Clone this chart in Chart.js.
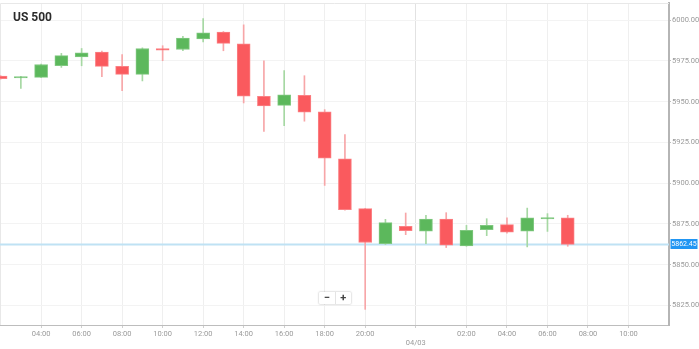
<!DOCTYPE html>
<html><head><meta charset="utf-8">
<script src="https://cdn.jsdelivr.net/npm/chart.js@4.4.1/dist/chart.umd.min.js"></script>
<style>
html,body{margin:0;padding:0;background:#fff;}
#wrap{position:relative;width:699px;height:349px;overflow:hidden;}
#c{display:block;width:699px;height:349px;}
#title{position:absolute;left:13px;top:10px;font:bold 12px Roboto, sans-serif;color:#2b2b2b;letter-spacing:0;}
#zoom{position:absolute;left:319px;top:292px;width:32px;height:12px;display:flex;background:#fff;box-shadow:0 0 2px rgba(0,0,0,0.35);border-radius:1px;font:bold 11px Roboto, sans-serif;color:#444;}
#zoom span{flex:1;text-align:center;line-height:12px;}
#zoom span:first-child{border-right:1px solid #e4e4e4;}
</style></head>
<body><div id="wrap"><canvas id="c" width="699" height="349"></canvas><div id="title">US 500</div><div id="zoom"><span>−</span><span>+</span></div></div>
<script>
// ---- data ----
const times = ['02:00','03:00','04:00','05:00','06:00','07:00','08:00','09:00','10:00','11:00','12:00','13:00','14:00','15:00','16:00','17:00','18:00','19:00','20:00','21:00','23:00','00:00','01:00','02:00','03:00','04:00','05:00','06:00','07:00'];
const opens  = [5965.6,5964.5,5964.9,5972.0,5977.4,5980.4,5971.6,5966.7,5982.6,5982.0,5988.4,5992.7,5985.5,5953.3,5947.7,5953.9,5943.7,5914.9,5884.4,5862.9,5873.5,5870.6,5878.0,5861.5,5871.5,5874.6,5870.6,5878.0,5878.8];
const highs  = [5966.0,5965.5,5973.0,5979.6,5982.6,5981.0,5978.8,5983.0,5984.3,5990.0,6001.0,5993.0,5997.1,5975.1,5969.0,5965.9,5945.1,5929.8,5884.6,5877.8,5881.7,5880.3,5881.9,5874.1,5878.2,5878.8,5884.7,5881.3,5880.3];
const lows   = [5963.8,5958.1,5964.7,5971.0,5972.0,5965.3,5956.7,5962.7,5975.1,5981.2,5986.7,5981.2,5949.2,5931.8,5935.3,5938.0,5898.6,5883.5,5822.6,5862.4,5868.4,5862.9,5860.5,5861.3,5867.8,5869.4,5860.9,5870.4,5861.3];
const closes = [5964.1,5965.3,5972.8,5978.2,5980.0,5971.6,5966.7,5982.6,5981.6,5989.0,5992.2,5985.7,5953.3,5947.4,5954.1,5943.5,5915.3,5883.7,5863.6,5875.8,5870.9,5878.0,5861.9,5871.1,5874.1,5870.0,5878.8,5878.4,5862.45];
const xTickSlots  = [2,4,6,8,10,12,14,16,18,20.5,23,25,27,29,31];
const xTickLabels = ['04:00','06:00','08:00','10:00','12:00','14:00','16:00','18:00','20:00','04/03','02:00','04:00','06:00','08:00','10:00'];
const yTicks = [5825,5850,5875,5900,5925,5950,5975,6000];
const lastPrice = closes[closes.length-1];

const GREEN='#5cb85c', GREEN_B='#80c880', GREEN_W='#a6d8a3';
const RED='#fa5a5e', RED_B='#fb8084', RED_W='#f7a6a8';
const up = i => closes[i] >= opens[i];

const bodyData = times.map((t,i)=>({x:i, y:[opens[i], closes[i]]}));
const wickData = times.map((t,i)=>({x:i, y:[lows[i], highs[i]]}));

const overlay = {
  id:'overlay',
  beforeDatasetsDraw(chart){
    const {ctx, chartArea:a} = chart;
    ctx.save();
    ctx.strokeStyle='#e8e8e8'; ctx.lineWidth=1;
    ctx.beginPath(); ctx.moveTo(a.left+0.5,a.bottom); ctx.lineTo(a.left+0.5,a.top+0.5); ctx.lineTo(a.right,a.top+0.5); ctx.stroke();
    const y = chart.scales.y.getPixelForValue(lastPrice);
    ctx.strokeStyle='#bfe2f4'; ctx.lineWidth=2;
    ctx.beginPath(); ctx.moveTo(a.left,y); ctx.lineTo(a.right,y); ctx.stroke();
    ctx.restore();
  },
  afterDraw(chart){
    const {ctx, chartArea:a} = chart;
    const y = chart.scales.y.getPixelForValue(lastPrice);
    ctx.save();
    ctx.fillStyle='#2196f3';
    ctx.fillRect(a.right+1.5, Math.round(y)-5, 27, 10);
    ctx.fillStyle='#fff'; ctx.font='7px Roboto'; ctx.textBaseline='middle'; ctx.textAlign='center';
    ctx.fillText(lastPrice.toFixed(2), a.right+15, Math.round(y)+0.5);
    ctx.restore();
  }
};

new Chart(document.getElementById('c'), {
  type:'bar',
  data:{datasets:[
    {data:bodyData, grouped:false, barThickness:13, borderWidth:1, borderSkipped:false, minBarLength:1.5,
     backgroundColor:c=>up(c.dataIndex)?GREEN:RED, borderColor:c=>up(c.dataIndex)?GREEN_B:RED_B},
    {data:wickData, grouped:false, barThickness:1, borderWidth:0,
     backgroundColor:c=>up(c.dataIndex)?GREEN_W:RED_W}
  ]},
  options:{
    responsive:false, animation:false, devicePixelRatio:1,
    layout:{padding:{top:3,left:0,right:0,bottom:0}},
    plugins:{legend:{display:false}, tooltip:{enabled:false}, title:{display:false}},
    scales:{
      x:{type:'linear', min:-0.03, max:33, offset:false, position:'bottom',
        afterBuildTicks:s=>{s.ticks = xTickSlots.map(v=>({value:v}));},
        ticks:{autoSkip:false, maxRotation:0, minRotation:0, padding:2, color:'#9a9a9a',
          font:{size:7.5, family:'Roboto'},
          callback:(v,i)=> xTickLabels[i]==='04/03' ? ['', '04/03'] : xTickLabels[i]},
        grid:{offset:false, color:c=> (c.tick && c.tick.value===20.5)?'#e2e2e2':'#efefef', tickLength:3, tickColor:'#cfcfcf'},
        border:{color:'#bdbdbd', width:1},
        afterFit:s=>{s.height=24; s.paddingLeft=0; s.paddingRight=0;}
      },
      y:{type:'linear', position:'right', min:5813, max:6010.5,
        afterBuildTicks:s=>{s.ticks = yTicks.map(v=>({value:v}));},
        ticks:{padding:1, color:'#9a9a9a', font:{size:7.5, family:'Roboto'}, callback:v=>Number(v).toFixed(2)},
        grid:{color:'#f3f3f3', tickLength:2, tickColor:'#bdbdbd'},
        border:{color:'#b5b5b5', width:2},
        afterFit:s=>{s.width=30; s.paddingTop=0; s.paddingBottom=0;}
      }
    }
  },
  plugins:[overlay]
});
</script>
</body></html>
